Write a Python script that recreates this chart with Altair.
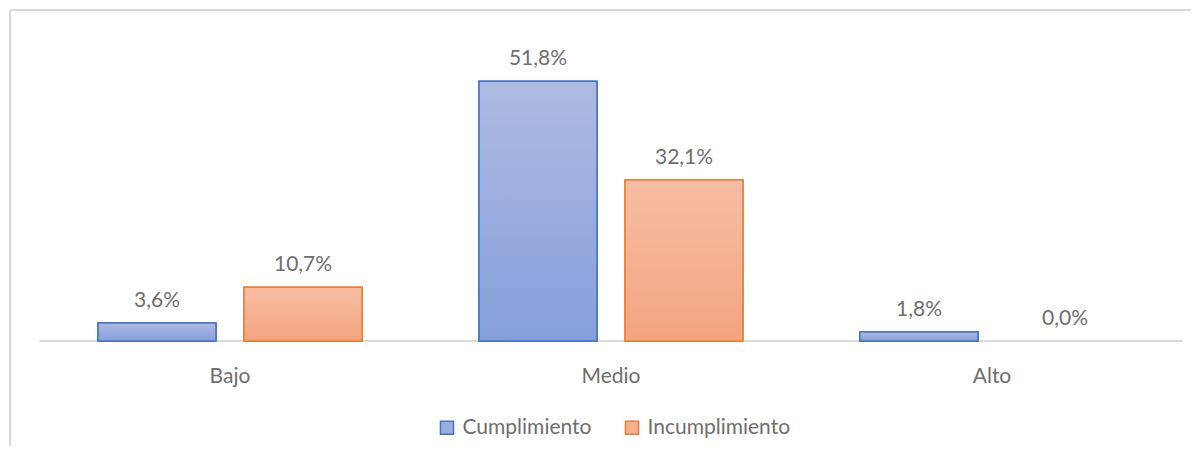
import altair as alt
import pandas as pd

categories = ["Bajo", "Medio", "Alto"]
series = ["Cumplimiento", "Incumplimiento"]
cumplimiento = [3.6, 51.8, 1.8]
incumplimiento = [10.7, 32.1, 0.0]

rows = []
for c, v in zip(categories, cumplimiento):
    rows.append({"cat": c, "series": series[0], "value": v})
for c, v in zip(categories, incumplimiento):
    rows.append({"cat": c, "series": series[1], "value": v})
df = pd.DataFrame(rows)
df["label"] = df["value"].map(lambda v: f"{v:.1f}%".replace(".", ","))

FONT = "Lato"
TXT = "#6E6E6E"
FS = 21

grad_blue = alt.Gradient(gradient="linear", x1=0, x2=0, y1=0, y2=1,
                         stops=[alt.GradientStop(color="#AEBBE2", offset=0),
                                alt.GradientStop(color="#869EDB", offset=1)])
grad_orange = alt.Gradient(gradient="linear", x1=0, x2=0, y1=0, y2=1,
                           stops=[alt.GradientStop(color="#F6BEA4", offset=0),
                                  alt.GradientStop(color="#F4A47F", offset=1)])

x_enc = alt.X("cat:N", sort=categories, title=None,
              scale=alt.Scale(paddingInner=0.307, paddingOuter=0.1535),
              axis=alt.Axis(labelFont=FONT, labelFontSize=FS, labelColor=TXT,
                            labelPadding=24, ticks=False, domain=False,
                            grid=False, labelAngle=0))
xoff = alt.XOffset("series:N", sort=series,
                   scale=alt.Scale(paddingInner=0.1918, paddingOuter=0))
y_enc = alt.Y("value:Q", scale=alt.Scale(domain=[0, 60]), axis=None)

base = alt.Chart(df)

legend_bars = base.transform_filter("datum.value > 0").mark_bar(strokeWidth=1.5).encode(
    x=x_enc, xOffset=xoff, y=y_enc,
    fill=alt.Fill("series:N", sort=series, title=None,
                  scale=alt.Scale(domain=series, range=["#9AAEE0", "#F5B190"]),
                  legend=alt.Legend(orient="none", legendX=397, legendY=377,
                                    direction="horizontal", symbolType="square",
                                    symbolSize=170, symbolStrokeWidth=1.5,
                                    labelFont=FONT, labelFontSize=FS, labelColor=TXT,
                                    columnPadding=30, labelOffset=5)),
    stroke=alt.Stroke("series:N", sort=series, title=None,
                      scale=alt.Scale(domain=series, range=["#4472C4", "#ED7D31"])),
)

grad_bars = base.transform_filter("datum.value > 0").mark_bar(strokeWidth=1.5).encode(
    x=x_enc, xOffset=xoff, y=y_enc,
    fill=alt.condition("datum.series === 'Cumplimiento'", alt.value(grad_blue), alt.value(grad_orange)),
    stroke=alt.condition("datum.series === 'Cumplimiento'", alt.value("#4472C4"), alt.value("#ED7D31")),
)

labels = base.mark_text(font=FONT, fontSize=FS, color=TXT, baseline="alphabetic", dy=-16).encode(
    x=x_enc, xOffset=xoff, y=y_enc, text="label:N"
)

frame_data = alt.Chart(pd.DataFrame({"k": [0]}))
baseline = frame_data.mark_rule(color="#D9D9D9", strokeWidth=2).encode(
    x=alt.value(0), x2=alt.value(1143), y=alt.value(301))
frame_top = frame_data.mark_rule(color="#D9D9D9", strokeWidth=2).encode(
    x=alt.value(-29.5), x2=alt.value(1160), y=alt.value(-30))
frame_left = frame_data.mark_rule(color="#D9D9D9", strokeWidth=2).encode(
    x=alt.value(-29.5), y=alt.value(-30), y2=alt.value(420))

chart = alt.layer(frame_top, frame_left, baseline, legend_bars, grad_bars, labels).properties(
    width=1143, height=301,
    padding={"left": 31.5, "top": 32, "right": 8, "bottom": 105},
    autosize=alt.AutoSizeParams(type="none"),
).configure(background="white").configure_view(stroke=None, strokeWidth=0)

chart.save("out.html", embed_options={"renderer": "svg", "actions": False})
